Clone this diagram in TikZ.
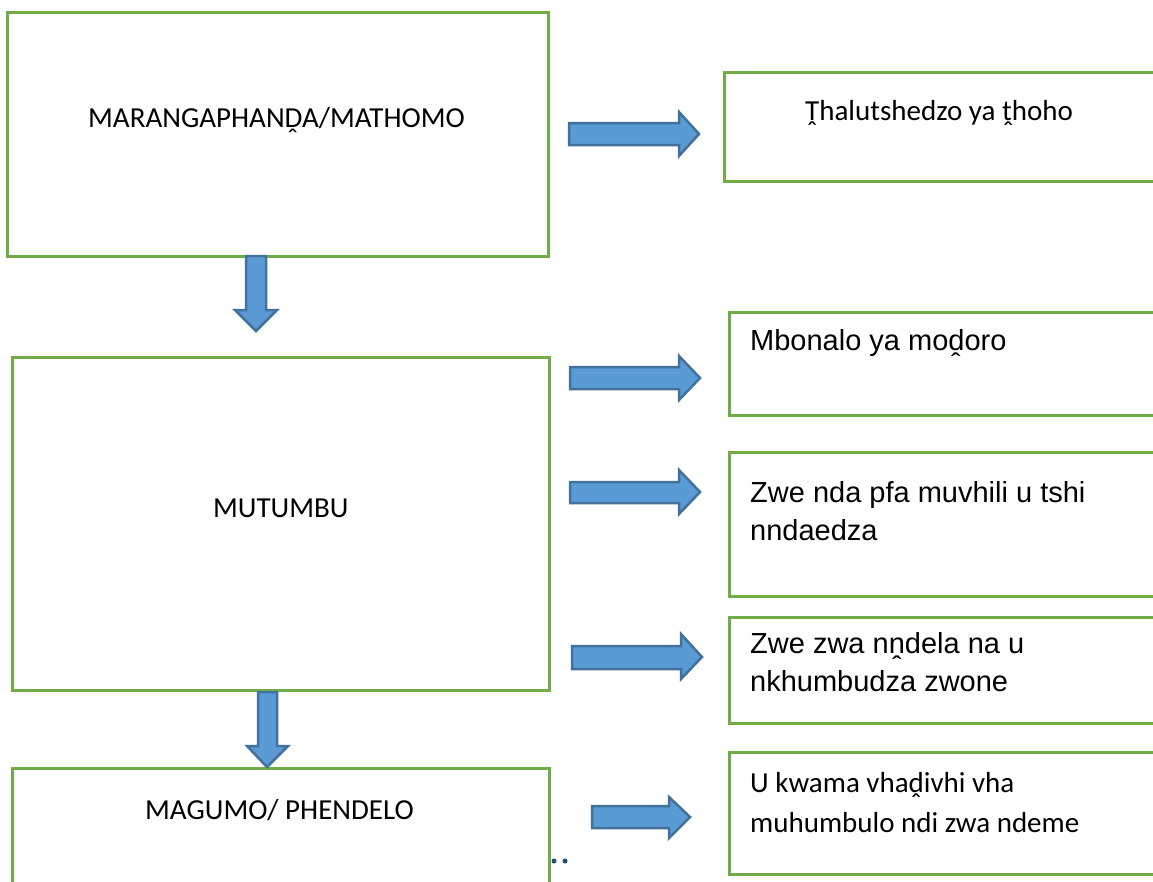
\documentclass[tikz,border=0pt]{standalone}
\usepackage{fontspec}
\setmainfont{Carlito}
\newfontfamily\arialf{Liberation Sans}
\definecolor{boxgreen}{HTML}{70AD47}
\definecolor{arrfill}{HTML}{5B9BD5}
\definecolor{arrline}{HTML}{41719C}
\definecolor{dotblue}{HTML}{1F4E79}
\begin{document}
\begin{tikzpicture}[x=1pt,y=-1pt,
  box/.style={draw=boxgreen,line width=3pt},
  blockarrow/.style={fill=arrfill,draw=arrline,line width=2.5pt,line join=miter},
  lbl/.style={anchor=base west,inner sep=0pt,font=\fontsize{29}{38}\selectfont},
  albl/.style={lbl,font=\arialf\fontsize{29}{38}\selectfont}]
\useasboundingbox (0,0) rectangle (1153,881);
\clip (0,0) rectangle (1153,881);
% boxes
\draw[box] (7,12) rectangle (548,256);
\draw[box] (724,72) rectangle (1170,181);
\draw[box] (12,357) rectangle (549,690);
\draw[box] (729,312) rectangle (1170,415);
\draw[box] (729,452) rectangle (1170,596);
\draw[box] (729,617) rectangle (1170,723);
\draw[box] (12,768) rectangle (549,900);
\draw[box] (729,752) rectangle (1170,874);
% texts
\node[lbl] (t1) at (88,127) {MARANGAPHANḒA/MATHOMO};
\node[lbl] (t2) at (805,120) {Ṱhalutshedzo ya ṱhoho};
\node[albl] (t3) at (750,350) {Mbonalo ya moḓoro};
\node[albl] (t4) at (750,502) {\begin{tabular}[t]{@{}l@{}}Zwe nda pfa muvhili u tshi\\nndaedza\end{tabular}};
\node[albl] (t5) at (750,653) {\begin{tabular}[t]{@{}l@{}}Zwe zwa nṋdela na u\\nkhumbudza zwone\end{tabular}};
\node[lbl,font=\fontsize{29}{40}\selectfont] (t6) at (750,792) {\begin{tabular}[t]{@{}l@{}}U kwama vhaḓivhi vha\\muhumbulo ndi zwa ndeme\end{tabular}};
\node[lbl] (t7) at (213,517) {MUTUMBU};
\node[lbl] (t8) at (145,819) {MAGUMO/ PHENDELO};
% right block arrows
\draw[blockarrow] (569,123) -- (679,123) -- (679,112) -- (699,134) -- (679,156) -- (679,145) -- (569,145) -- cycle;
\draw[blockarrow] (570,367) -- (679,367) -- (679,356) -- (700,378) -- (679,400) -- (679,389) -- (570,389) -- cycle;
\draw[blockarrow] (570,482) -- (679,482) -- (679,470) -- (700,492) -- (679,514) -- (679,503) -- (570,503) -- cycle;
\draw[blockarrow] (572,646) -- (681,646) -- (681,634) -- (702,657) -- (681,679) -- (681,669) -- (572,669) -- cycle;
\draw[blockarrow] (592,806) -- (669,806) -- (669,797) -- (690,817) -- (669,838) -- (669,828) -- (592,828) -- cycle;
% down block arrows
\draw[blockarrow] (246,256) -- (266,256) -- (266,310) -- (277,310) -- (256,331) -- (235,310) -- (246,310) -- cycle;
\draw[blockarrow] (258,692) -- (277,692) -- (277,746) -- (288,746) -- (267,767) -- (247,746) -- (258,746) -- cycle;
% dots
\fill[dotblue] (554,861) circle (2.5);
\fill[dotblue] (565,861) circle (2.5);
\end{tikzpicture}
\end{document}
